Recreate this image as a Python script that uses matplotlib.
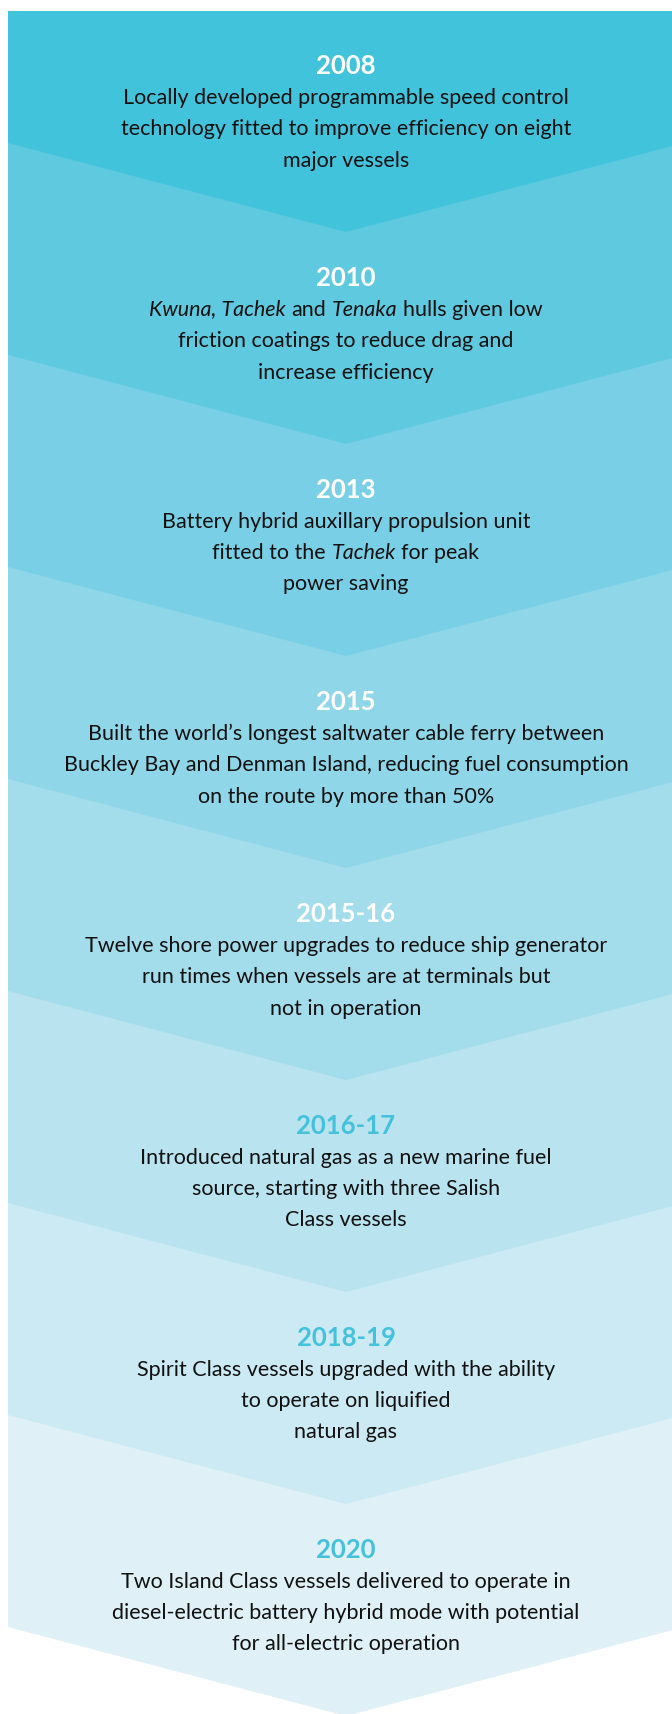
import matplotlib
matplotlib.use("Agg")
import matplotlib.pyplot as plt
from matplotlib.patches import Polygon

# timeline content
years = ["2008", "2010", "2013", "2015", "2015-16", "2016-17", "2018-19", "2020"]
descriptions = [
    ["Locally developed programmable speed control",
     "technology fitted to improve efficiency on eight",
     "major vessels"],
    ["*Kwuna, Tachek* and *Tenaka* hulls given low",
     "friction coatings to reduce drag and",
     "increase efficiency"],
    ["Battery hybrid auxillary propulsion unit",
     "fitted to the *Tachek* for peak",
     "power saving"],
    ["Built the world\u2019s longest saltwater cable ferry between",
     "Buckley Bay and Denman Island, reducing fuel consumption",
     "on the route by more than 50%"],
    ["Twelve shore power upgrades to reduce ship generator",
     "run times when vessels are at terminals but",
     "not in operation"],
    ["Introduced natural gas as a new marine fuel",
     "source, starting with three Salish",
     "Class vessels"],
    ["Spirit Class vessels upgraded with the ability",
     "to operate on liquified",
     "natural gas"],
    ["Two Island Class vessels delivered to operate in",
     "diesel-electric battery hybrid mode with potential",
     "for all-electric operation"],
]
band_colors = ["#42c3dc", "#5fc9e0", "#79d0e6", "#8fd6e8",
               "#a3dcea", "#b8e3ef", "#cceaf3", "#dff0f6"]
year_colors = ["white"] * 5 + ["#45c1db"] * 3

W, H = 672, 1714
FONT = "Lato"
BODY_SIZE = 15.5
YEAR_SIZE = 18.5

fig = plt.figure(figsize=(W / 100, H / 100), dpi=100)
ax = fig.add_axes([0, 0, 1, 1])
ax.set_xlim(0, W)
ax.set_ylim(H, 0)
ax.axis("off")

left, right, cx = 8, 684, 346
top = 11
step = 212
first_tip = 232
depth = 89

# bands drawn from the bottom one up so each chevron overlaps the next
for k in range(len(years) - 1, -1, -1):
    tip = first_tip + step * k
    edge = tip - depth
    poly = Polygon([(left, top), (right, top), (right, edge), (cx, tip), (left, edge)],
                   closed=True, facecolor=band_colors[k], edgecolor="none")
    ax.add_patch(poly)

renderer = fig.canvas.get_renderer()


def text_width(s, style):
    t = ax.text(0, 0, s, fontsize=BODY_SIZE, family=FONT, style=style)
    w = t.get_window_extent(renderer).width
    t.remove()
    return w


space_w = text_width("a a", "normal") - text_width("aa", "normal")


def draw_line(line, y):
    # split into runs of plain / italic text, marked with *...*
    parts = line.split("*")
    runs = []
    for i, p in enumerate(parts):
        if p == "":
            continue
        runs.append((p, "italic" if i % 2 == 1 else "normal"))
    pieces = []
    for s, style in runs:
        lead = len(s) - len(s.lstrip(" "))
        trail = len(s) - len(s.rstrip(" "))
        core = s.strip(" ")
        pieces.append((lead * space_w, core, style, text_width(core, style), trail * space_w))
    total = sum(a + w + b for a, _, _, w, b in pieces)
    x = cx - total / 2
    for a, core, style, w, b in pieces:
        x += a
        ax.text(x, y, core, fontsize=BODY_SIZE, family=FONT, style=style,
                color="#111111", ha="left", va="center")
        x += w + b


for k, (yr, lines) in enumerate(zip(years, descriptions)):
    base = step * k
    ax.text(cx, 66 + base, yr, fontsize=YEAR_SIZE, family=FONT, fontweight="bold",
            color=year_colors[k], ha="center", va="center")
    for j, line in enumerate(lines):
        draw_line(line, 97.5 + base + 31.5 * j)

fig.savefig("out.png", dpi=100, facecolor="white")
